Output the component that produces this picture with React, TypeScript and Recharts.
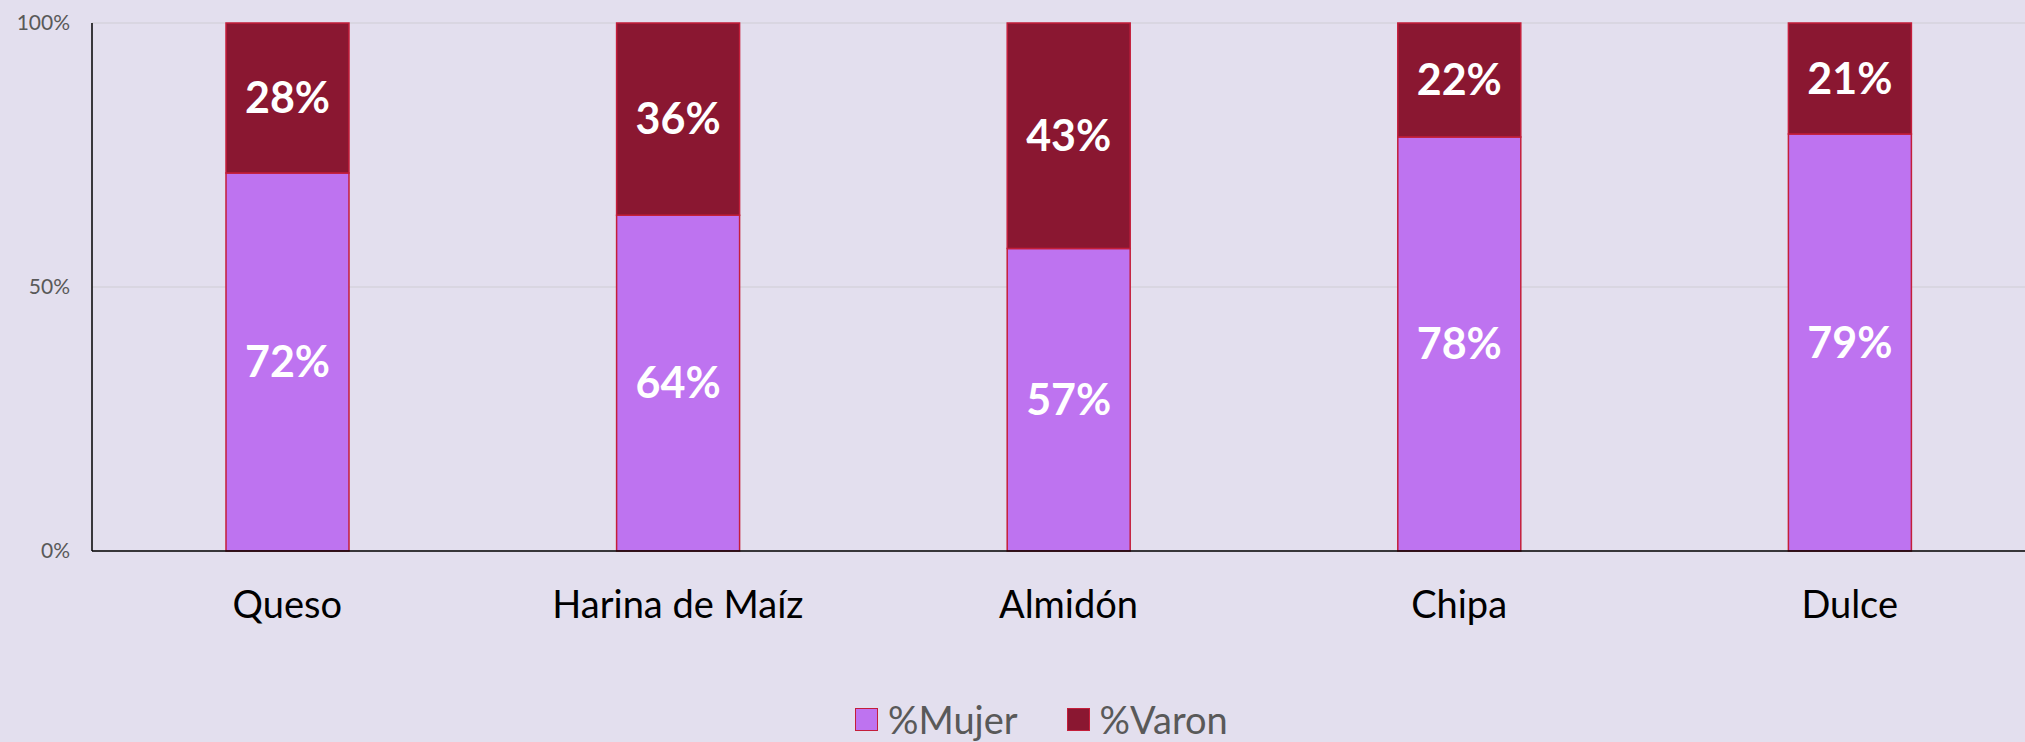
import React from 'react';
import { BarChart, Bar, XAxis, YAxis, CartesianGrid, Legend, LabelList } from 'recharts';

const categories = ['Queso', 'Harina de Maíz', 'Almidón', 'Chipa', 'Dulce'];
const mujer = [71.6, 63.6, 57.3, 78.4, 79.0];
const varon = [28.4, 36.4, 42.7, 21.6, 21.0];
const yTicks = [0, 50, 100];

const FONT = 'Lato, "Open Sans", sans-serif';
const PURPLE = '#BE73F0';
const MAROON = '#8A1731';
const EDGE = '#C41E3A';

const data = categories.map((name, i) => ({
  name,
  '%Mujer': mujer[i],
  '%Varon': varon[i],
}));

const pct = (v: any) => `${Math.round(Number(v))}%`;

const renderLegend = (props: any) => {
  const { payload = [] } = props;
  return (
    <div style={{ height: 46, display: 'flex', alignItems: 'center', paddingLeft: 855, fontFamily: FONT }}>
      {payload.map((entry: any, i: number) => (
        <div key={entry.value} style={{ display: 'flex', alignItems: 'center', marginRight: i === 0 ? 49 : 0 }}>
          <span
            style={{
              width: 21,
              height: 21,
              background: entry.color,
              border: `1.5px solid ${EDGE}`,
              marginRight: 10,
              display: 'inline-block',
            }}
          />
          <span style={{ fontSize: 38, color: '#595959', lineHeight: '46px' }}>{entry.value}</span>
        </div>
      ))}
    </div>
  );
};

const App: React.FC = () => {
  return (
    <div
      style={{
        position: 'absolute',
        left: 0,
        top: 0,
        width: 2025,
        height: 742,
        overflow: 'hidden',
        background: '#E3DFEE',
      }}
    >
      <BarChart
        width={2045}
        height={742}
        data={data}
        margin={{ top: 23, right: 0, bottom: 0, left: 0 }}
      >
        <CartesianGrid vertical={false} stroke="#D6D3DC" strokeWidth={1.5} />
        <XAxis
          dataKey="name"
          height={145}
          axisLine={{ stroke: '#000', strokeWidth: 1.5 }}
          tickLine={false}
          tickSize={0}
          tickMargin={40}
          interval={0}
          tick={{ fill: '#000', fontSize: 38, fontFamily: FONT }}
        />
        <YAxis
          width={92}
          domain={[0, 100]}
          ticks={yTicks}
          axisLine={{ stroke: '#000', strokeWidth: 1.5 }}
          tickLine={false}
          tickSize={0}
          tickMargin={22}
          tickFormatter={(v: number) => `${v}%`}
          tick={{ fill: '#595959', fontSize: 21, fontFamily: FONT }}
        />
        <Legend verticalAlign="bottom" content={renderLegend} />
        <Bar dataKey="%Mujer" stackId="a" fill={PURPLE} stroke={EDGE} strokeWidth={1.5} barSize={123} isAnimationActive={false}>
          <LabelList
            dataKey="%Mujer"
            position="center"
            formatter={pct}
            style={{ fill: '#fff', fontSize: 43, fontWeight: 700, fontFamily: FONT }}
          />
        </Bar>
        <Bar dataKey="%Varon" stackId="a" fill={MAROON} stroke={EDGE} strokeWidth={1.5} barSize={123} isAnimationActive={false}>
          <LabelList
            dataKey="%Varon"
            position="center"
            formatter={pct}
            style={{ fill: '#fff', fontSize: 43, fontWeight: 700, fontFamily: FONT }}
          />
        </Bar>
      </BarChart>
    </div>
  );
};

export default App;
